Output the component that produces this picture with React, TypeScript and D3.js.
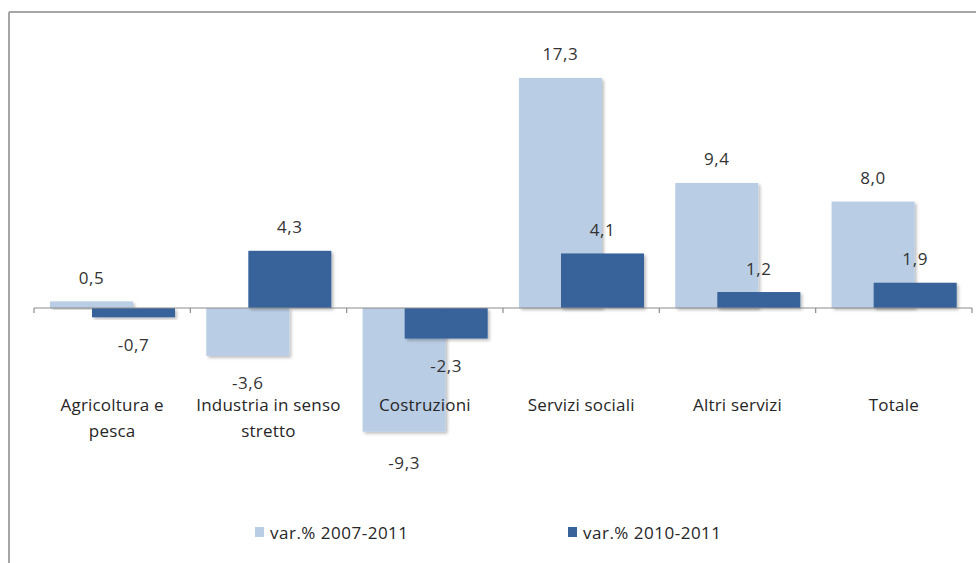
import React from "react";
import * as d3 from "d3";

const categories: string[][] = [
  ["Agricoltura e", "pesca"],
  ["Industria in senso", "stretto"],
  ["Costruzioni"],
  ["Servizi sociali"],
  ["Altri servizi"],
  ["Totale"],
];
const series = ["var.% 2007-2011", "var.% 2010-2011"];
const values2007_2011 = [0.5, -3.6, -9.3, 17.3, 9.4, 8.0];
const values2010_2011 = [-0.7, 4.3, -2.3, 4.1, 1.2, 1.9];
const colors = ["#b9cde5", "#37629a"];

const W = 976;
const H = 563;

export default function App() {
  const x = d3
    .scaleBand<number>()
    .domain(d3.range(categories.length))
    .range([34, 972])
    .paddingInner(0)
    .paddingOuter(0);
  const bw = x.bandwidth();
  const barW = bw * 0.531;
  const sx = d3
    .scalePoint<number>()
    .domain([0, 1])
    .range([bw * 0.102, bw * 0.371]);
  const y = d3.scaleLinear().domain([-10, 20]).range([441, 42]);
  const data = [values2007_2011, values2010_2011];
  const font = "'Open Sans', 'DejaVu Sans', sans-serif";
  const fmt = (v: number) => v.toFixed(1).replace(".", ",");

  return (
    <svg
      width={W}
      height={H}
      style={{ position: "absolute", left: 0, top: 0, background: "#fff" }}
      fontFamily={font}
    >
      <defs>
        <filter id="sh" x="-10%" y="-10%" width="130%" height="130%">
          <feDropShadow dx="2" dy="2" stdDeviation="1.5" floodColor="#000" floodOpacity="0.25" />
        </filter>
      </defs>
      {/* frame */}
      <line x1={9} y1={12} x2={976} y2={12} stroke="#a6a6a6" strokeWidth={2} />
      <line x1={9} y1={12} x2={9} y2={563} stroke="#a6a6a6" strokeWidth={2} />

      {/* bars */}
      {data.map((vals, si) =>
        vals.map((v, i) => {
          const x0 = (x(i) as number) + (sx(si) as number);
          const y0 = y(Math.max(0, v));
          const h = Math.abs(y(v) - y(0));
          return (
            <rect
              key={`b${si}-${i}`}
              x={x0}
              y={y0}
              width={barW}
              height={h}
              fill={colors[si]}
              filter="url(#sh)"
            />
          );
        })
      )}

      {/* axis */}
      <line x1={34} y1={y(0)} x2={972} y2={y(0)} stroke="#8c8c8c" strokeWidth={1.2} />
      {d3.range(categories.length + 1).map((i) => {
        const tx = 34 + i * bw;
        return (
          <line key={`t${i}`} x1={tx} y1={y(0)} x2={tx} y2={y(0) + 5} stroke="#8c8c8c" strokeWidth={1.2} />
        );
      })}

      {/* data labels */}
      {data.map((vals, si) =>
        vals.map((v, i) => {
          const cx = (x(i) as number) + (sx(si) as number) + barW / 2;
          const ly = v >= 0 ? y(v) - 24 : y(v) + 27 + (v < -5 ? 4 : 0);
          return (
            <text
              key={`l${si}-${i}`}
              x={cx}
              y={ly}
              textAnchor="middle"
              dominantBaseline="central"
              fontSize={17}
              letterSpacing={0.6}
              fill="#333"
            >
              {fmt(v)}
            </text>
          );
        })
      )}

      {/* category labels */}
      {categories.map((lines, i) => (
        <text
          key={`c${i}`}
          x={(x(i) as number) + bw / 2}
          textAnchor="middle"
          fontSize={17}
          letterSpacing={0.2}
          fill="#262626"
        >
          {lines.map((ln, k) => (
            <tspan key={k} x={(x(i) as number) + bw / 2} y={404 + k * 26} dominantBaseline="central">
              {ln}
            </tspan>
          ))}
        </text>
      ))}

      {/* legend */}
      {series.map((s, si) => {
        const lx = si === 0 ? 255 : 568;
        return (
          <g key={`lg${si}`}>
            <rect x={lx} y={527} width={9} height={10} fill={colors[si]} />
            <text x={lx + 15} y={532} dominantBaseline="central" fontSize={17} letterSpacing={0.5} fill="#262626">
              {s}
            </text>
          </g>
        );
      })}
    </svg>
  );
}
